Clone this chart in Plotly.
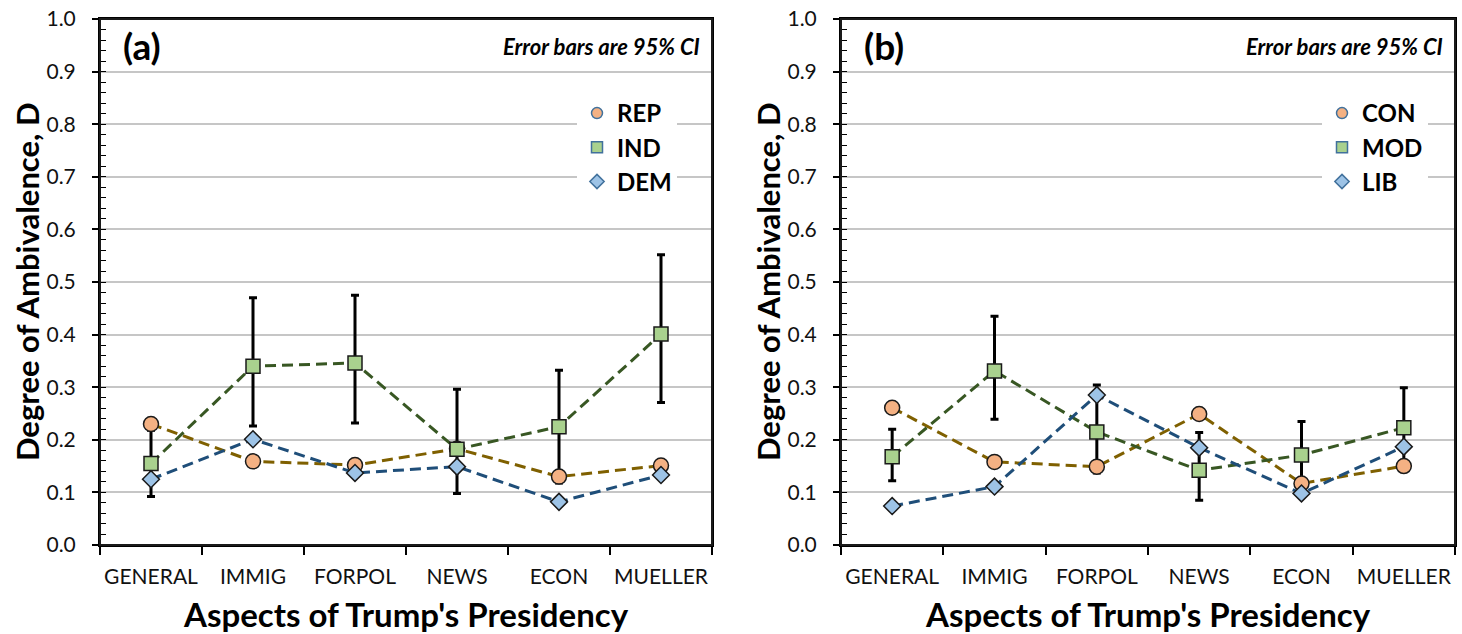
import plotly.graph_objects as go

categories = ["GENERAL", "IMMIG", "FORPOL", "NEWS", "ECON", "MUELLER"]

# Panel (a): party
rep = [0.230, 0.159, 0.152, 0.183, 0.130, 0.151]
ind = [0.155, 0.340, 0.346, 0.182, 0.225, 0.401]
ind_hi = [0.218, 0.470, 0.475, 0.296, 0.332, 0.552]
ind_lo = [0.092, 0.226, 0.232, 0.098, 0.118, 0.271]
dem = [0.125, 0.201, 0.137, 0.149, 0.082, 0.133]

# Panel (b): ideology
con = [0.261, 0.158, 0.149, 0.249, 0.117, 0.150]
mod = [0.168, 0.331, 0.215, 0.142, 0.171, 0.223]
mod_hi = [0.220, 0.435, 0.304, 0.214, 0.235, 0.299]
mod_lo = [0.122, 0.239, 0.137, 0.085, 0.107, 0.147]
lib = [0.074, 0.111, 0.285, 0.185, 0.098, 0.187]

y_ticks = [0.0, 0.1, 0.2, 0.3, 0.4, 0.5, 0.6, 0.7, 0.8, 0.9, 1.0]

FONT = "Lato"
ORANGE_FILL, GREEN_FILL, BLUE_FILL = "#F4B183", "#A9D18E", "#9DC3E6"
ORANGE_LINE, GREEN_LINE, BLUE_LINE = "#7F6000", "#385723", "#1F4E79"
OUTLINE = "#1A1A1A"
LEG_OUTLINE = "#41719C"
DASH = "11px,6px"

W, H = 1462, 634


def px(x):
    return x / W


def py(y):
    return 1 - y / H


fig = go.Figure()

panels = [
    ("x", "y", "legend", ["REP", "IND", "DEM"], rep, ind, ind_hi, ind_lo, dem),
    ("x2", "y2", "legend2", ["CON", "MOD", "LIB"], con, mod, mod_hi, mod_lo, lib),
]

for xa, ya, leg, names, s1, s2, hi, lo, s3 in panels:
    # error bars of the middle group (drawn first, under the markers)
    fig.add_trace(go.Scatter(
        x=categories, y=s2, mode="markers", xaxis=xa, yaxis=ya, showlegend=False,
        marker=dict(size=1, opacity=0),
        error_y=dict(type="data", symmetric=False,
                     array=[h - v for h, v in zip(hi, s2)],
                     arrayminus=[v - l for v, l in zip(s2, lo)],
                     color="black", thickness=3, width=4),
        hoverinfo="skip"))
    specs = [
        (names[0], s1, "circle", 15, ORANGE_FILL, ORANGE_LINE),
        (names[1], s2, "square", 14, GREEN_FILL, GREEN_LINE),
        (names[2], s3, "diamond", 13, BLUE_FILL, BLUE_LINE),
    ]
    for nm, vals, sym, sz, fill, lc in specs:
        fig.add_trace(go.Scatter(
            x=categories, y=vals, mode="lines+markers", name=nm,
            xaxis=xa, yaxis=ya, showlegend=False,
            line=dict(color=lc, width=3, dash=DASH),
            marker=dict(symbol=sym, size=sz, color=fill,
                        line=dict(color=OUTLINE, width=1.5))))
    for nm, vals, sym, sz, fill, lc in specs:
        # legend entry: marker only
        fig.add_trace(go.Scatter(
            x=[None], y=[None], mode="markers", name=nm,
            xaxis=xa, yaxis=ya, legend=leg, legendgroup=leg + nm,
            marker=dict(symbol=sym, size=11, color=fill,
                        line=dict(color=LEG_OUTLINE, width=1.5))))

ydom = [py(545), py(19)]
xdom_a = [px(100), px(712)]
xdom_b = [px(841), px(1455)]

xaxis_common = dict(
    type="category", range=[-0.5, 5.5], tickson="boundaries",
    ticks="outside", ticklen=8, tickwidth=1.5, tickcolor="black",
    showline=True, linecolor="black", linewidth=2, mirror=True,
    showgrid=False, zeroline=False, tickangle=0, automargin=False,
    tickfont=dict(family=FONT, size=21, color="#111"),
    ticklabelstandoff=12,
)
yaxis_common = dict(
    range=[0, 1], tickvals=y_ticks, ticktext=[f"{v:.1f}" for v in y_ticks],
    ticks="outside", ticklen=6, tickwidth=1.5, tickcolor="black",
    showline=True, linecolor="black", linewidth=2, mirror=True,
    showgrid=True, gridcolor="#C6C6C6", gridwidth=1.8, zeroline=False,
    automargin=False, ticklabeloverflow="allow",
    tickfont=dict(family=FONT, size=21, color="#111"),
    ticklabelstandoff=12,
    minor=dict(dtick=0.02, ticks="inside", ticklen=6, tickwidth=1.2,
               tickcolor="black", showgrid=False),
)

legend_common = dict(
    bgcolor="white", borderwidth=0, tracegroupgap=0,
    font=dict(family=FONT, size=24, color="black", weight="bold"),
    xanchor="left", yanchor="top", itemwidth=30,
)

fig.update_layout(
    width=W, height=H, margin=dict(l=0, r=0, t=0, b=0, autoexpand=False),
    paper_bgcolor="white", plot_bgcolor="white",
    xaxis=dict(domain=xdom_a, anchor="y", **xaxis_common),
    yaxis=dict(domain=ydom, anchor="x", **yaxis_common),
    xaxis2=dict(domain=xdom_b, anchor="y2", **xaxis_common),
    yaxis2=dict(domain=ydom, anchor="x2", **yaxis_common),
    legend=dict(x=px(577), y=py(91), **legend_common),
    legend2=dict(x=px(1322), y=py(91), **legend_common),
)

# plot-area frames (paper-referenced so they are not clipped)
for xd in (xdom_a, xdom_b):
    fig.add_shape(type="rect", xref="paper", yref="paper",
                  x0=xd[0], x1=xd[1], y0=ydom[0], y1=ydom[1],
                  line=dict(color="#1A1A1A", width=2), fillcolor="rgba(0,0,0,0)",
                  layer="above")

ann = []
for (x0, x1), lab in [(xdom_a, "(a)"), (xdom_b, "(b)")]:
    ann.append(dict(x=x0 + 21 / W, y=py(46), xref="paper", yref="paper",
                    text=f"<b>{lab}</b>", showarrow=False, xanchor="left", yanchor="middle",
                    font=dict(family=FONT, size=37, color="black")))
    ann.append(dict(x=x1 - 10 / W, y=py(47), xref="paper", yref="paper",
                    text="<b><i>Error bars are 95% CI</i></b>", showarrow=False,
                    xanchor="right", yanchor="middle",
                    font=dict(family=FONT, size=22, color="black")))
    ann.append(dict(x=(x0 + x1) / 2, y=py(614), xref="paper", yref="paper",
                    text="<b>Aspects of Trump's Presidency</b>", showarrow=False,
                    xanchor="center", yanchor="middle",
                    font=dict(family=FONT, size=33, color="black")))
    ann.append(dict(x=x0 - 73 / W, y=(ydom[0] + ydom[1]) / 2, xref="paper", yref="paper",
                    text="<b>Degree of Ambivalence, D</b>", showarrow=False, textangle=-90,
                    xanchor="center", yanchor="middle",
                    font=dict(family=FONT, size=31, color="black")))
fig.update_layout(annotations=ann)

fig.write_html("out.html", config={"displayModeBar": False},
               post_script="document.body.style.margin='0px';")
